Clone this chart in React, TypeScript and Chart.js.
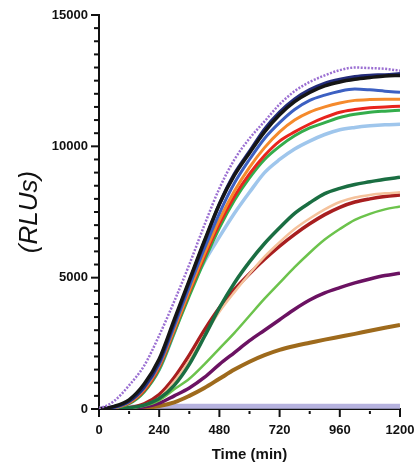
import React, { useEffect, useRef } from 'react';
import { Chart, registerables } from 'chart.js';

Chart.register(...registerables);

// Time points (min)
const times = [0, 60, 120, 180, 240, 300, 360, 420, 480, 540, 600, 660, 720, 780, 840, 900, 960, 1020, 1080, 1140, 1200];

// Series values (RLUs)
const violet = [0, 300, 900, 1650, 2800, 4100, 5500, 7000, 8400, 9500, 10300, 10950, 11600, 12100, 12450, 12700, 12900, 13000, 12980, 12950, 12880];
const black = [0, 100, 350, 950, 1900, 3400, 4900, 6400, 7800, 8900, 9750, 10550, 11200, 11700, 12050, 12300, 12450, 12550, 12620, 12680, 12700];
const navy = [0, 80, 300, 850, 1800, 3300, 4850, 6350, 7800, 8950, 9800, 10650, 11300, 11800, 12150, 12400, 12550, 12650, 12700, 12720, 12760];
const blue = [0, 60, 280, 800, 1700, 3150, 4650, 6100, 7450, 8600, 9500, 10300, 10900, 11400, 11750, 11950, 12100, 12180, 12150, 12100, 12060];
const orange = [0, 50, 250, 750, 1650, 3050, 4500, 5900, 7200, 8300, 9200, 9950, 10550, 11000, 11300, 11500, 11650, 11750, 11780, 11790, 11790];
const red = [0, 50, 230, 700, 1600, 3000, 4450, 5800, 7050, 8100, 8950, 9650, 10200, 10550, 10850, 11100, 11300, 11400, 11470, 11500, 11530];
const green = [0, 40, 200, 650, 1500, 2900, 4300, 5650, 6900, 7950, 8800, 9500, 10000, 10400, 10700, 10900, 11100, 11220, 11300, 11340, 11370];
const lightBlue = [0, 50, 250, 700, 1500, 2900, 4450, 5600, 6550, 7450, 8250, 9000, 9500, 9900, 10200, 10450, 10630, 10720, 10780, 10820, 10840];
const darkGreen = [0, 0, 50, 150, 400, 900, 1700, 2750, 3850, 4800, 5600, 6300, 6900, 7450, 7850, 8200, 8400, 8550, 8650, 8750, 8820];
const peach = [0, 0, 30, 150, 420, 1050, 1850, 2800, 3700, 4450, 5150, 5800, 6350, 6850, 7250, 7600, 7880, 8050, 8150, 8210, 8250];
const darkRed = [0, 0, 50, 200, 550, 1200, 2050, 3000, 3850, 4550, 5150, 5700, 6200, 6650, 7050, 7400, 7680, 7880, 8000, 8090, 8150];
const lightGreen = [0, 0, 30, 120, 330, 750, 1150, 1700, 2300, 2900, 3550, 4200, 4800, 5400, 5950, 6450, 6850, 7200, 7430, 7600, 7710];
const plum = [0, 0, 20, 80, 220, 500, 800, 1200, 1700, 2150, 2600, 3000, 3400, 3800, 4150, 4420, 4620, 4800, 4950, 5080, 5170];
const brown = [0, 0, 10, 40, 110, 250, 500, 800, 1150, 1500, 1800, 2050, 2250, 2400, 2520, 2640, 2750, 2860, 2980, 3090, 3200];
const lavender = [0, 40, 70, 90, 100, 100, 100, 100, 100, 100, 100, 100, 100, 100, 100, 100, 100, 100, 100, 100, 100];

// Axis ticks
const xTickLabels = [0, 240, 480, 720, 960, 1200];
const xMinorStep = 120;
const yTickLabels = [0, 5000, 10000, 15000];
const yMinorStep = 500;

const FONT = "'Liberation Sans', Arial, Helvetica, sans-serif";

const seriesDefs = [
  { name: 'violet', data: violet, color: '#9b6fd2', width: 2.5, dash: [2, 1.5] },
  { name: 'black', data: black, color: '#151515', width: 3.5 },
  { name: 'navy', data: navy, color: '#232c7a', width: 3.5 },
  { name: 'blue', data: blue, color: '#3c60c2', width: 3 },
  { name: 'orange', data: orange, color: '#f58a2c', width: 3 },
  { name: 'red', data: red, color: '#e8241d', width: 3 },
  { name: 'green', data: green, color: '#34ad4c', width: 3 },
  { name: 'lightBlue', data: lightBlue, color: '#9fc6ec', width: 3.5 },
  { name: 'darkGreen', data: darkGreen, color: '#1a6e42', width: 3.5 },
  { name: 'peach', data: peach, color: '#f5c29c', width: 2.5 },
  { name: 'darkRed', data: darkRed, color: '#a81e1f', width: 3.5 },
  { name: 'lightGreen', data: lightGreen, color: '#6cc34c', width: 2.5 },
  { name: 'plum', data: plum, color: '#6b1262', width: 3.5 },
  { name: 'brown', data: brown, color: '#9e6a1c', width: 4 },
  { name: 'lavender', data: lavender, color: '#b6b2de', width: 5 },
];

const axisPlugin = {
  id: 'axisMarks',
  beforeDatasetsDraw(chart: any) {
    const { ctx, scales } = chart;
    const x = scales.x;
    const y = scales.y;
    const x0 = x.getPixelForValue(0);
    const x1 = x.getPixelForValue(1200);
    const y0 = y.getPixelForValue(0);
    const yTop = y.getPixelForValue(15000);
    ctx.save();
    ctx.strokeStyle = '#111';
    ctx.lineWidth = 2;
    ctx.lineCap = 'butt';
    ctx.beginPath();
    ctx.moveTo(x0, yTop - 1);
    ctx.lineTo(x0, y0 + 1);
    ctx.moveTo(x0 - 1, y0);
    ctx.lineTo(x1 + 1, y0);
    ctx.stroke();
    // y ticks
    for (let v = 0; v <= 15000; v += yMinorStep) {
      const py = y.getPixelForValue(v);
      const major = yTickLabels.includes(v);
      const len = major ? 8 : 5;
      ctx.beginPath();
      ctx.moveTo(x0 - len, py);
      ctx.lineTo(x0, py);
      ctx.stroke();
    }
    // x ticks
    for (let t = 0; t <= 1200; t += xMinorStep) {
      const px = x.getPixelForValue(t);
      const major = xTickLabels.includes(t);
      ctx.beginPath();
      if (major) {
        ctx.moveTo(px, y0);
        ctx.lineTo(px, y0 + 8);
      } else {
        ctx.moveTo(px, y0 + 2);
        ctx.lineTo(px, y0 + 5);
      }
      ctx.stroke();
    }
    ctx.restore();
  },
};

export default function App() {
  const canvasRef = useRef<HTMLCanvasElement | null>(null);

  useEffect(() => {
    const canvas = canvasRef.current;
    if (!canvas) return;
    const datasets = seriesDefs.map((s) => ({
      label: s.name,
      data: times.map((t, i) => ({ x: t, y: s.data[i] })),
      borderColor: s.color,
      backgroundColor: s.color,
      borderWidth: s.width,
      borderDash: s.dash || [],
      pointRadius: 0,
      fill: false,
      cubicInterpolationMode: 'monotone' as const,
    }));
    const chart = new Chart(canvas, {
      type: 'line',
      data: { datasets },
      options: {
        animation: false,
        responsive: false,
        devicePixelRatio: 1,
        layout: { padding: { top: 15, right: 19, bottom: 0, left: 0 }, autoPadding: false },
        plugins: { legend: { display: false }, tooltip: { enabled: false } },
        scales: {
          x: {
            type: 'linear',
            min: 0,
            max: 1200,
            afterFit: (s: any) => { s.height = 58; s.paddingLeft = 0; s.paddingRight = 0; },
            grid: { display: false, drawTicks: false },
            border: { display: false },
            afterBuildTicks: (s: any) => { s.ticks = xTickLabels.map((v) => ({ value: v })); },
            ticks: {
              padding: 14,
              color: '#111',
              maxRotation: 0,
              autoSkip: false,
              callback: (v: any) => String(v),
              font: { family: FONT, size: 13, weight: 'bold' },
            },
            title: {
              display: true,
              text: 'Time (min)',
              color: '#111',
              font: { family: FONT, size: 15, weight: 'bold' },
              padding: { top: 0, bottom: 3 },
            },
          },
          y: {
            type: 'linear',
            min: 0,
            max: 15000,
            afterFit: (s: any) => { s.width = 99; s.paddingTop = 0; s.paddingBottom = 0; },
            grid: { display: false, drawTicks: false },
            border: { display: false },
            afterBuildTicks: (s: any) => { s.ticks = yTickLabels.map((v) => ({ value: v })); },
            ticks: {
              padding: 11,
              color: '#111',
              autoSkip: false,
              callback: (v: any) => String(v),
              font: { family: FONT, size: 13, weight: 'bold' },
            },
            title: {
              display: true,
              text: '(RLUs)',
              color: '#111',
              font: { family: FONT, size: 26, style: 'italic', weight: 'normal' },
              padding: { top: 14, bottom: 0 },
            },
          },
        },
      },
      plugins: [axisPlugin],
    } as any);
    return () => chart.destroy();
  }, []);

  return (
    <div style={{ position: 'fixed', left: 0, top: 0, width: 419, height: 467, background: '#fff' }}>
      <canvas ref={canvasRef} width={419} height={467} style={{ width: 419, height: 467, display: 'block' }} />
    </div>
  );
}
